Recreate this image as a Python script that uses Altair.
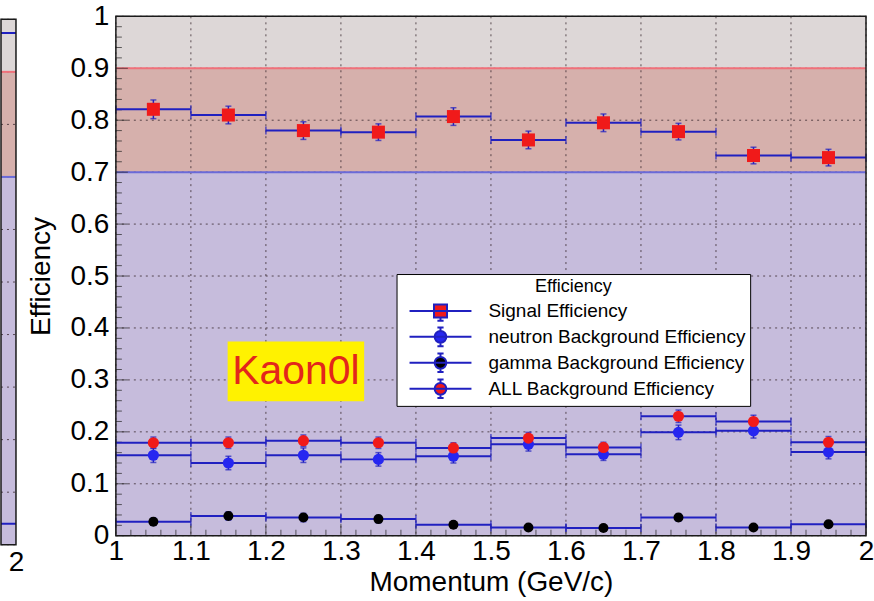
import altair as alt
import pandas as pd

# ---------------- data ----------------
bin_lo = [1.0, 1.1, 1.2, 1.3, 1.4, 1.5, 1.6, 1.7, 1.8, 1.9]
bin_hi = [1.1, 1.2, 1.3, 1.4, 1.5, 1.6, 1.7, 1.8, 1.9, 2.0]
bin_mid = [1.05, 1.15, 1.25, 1.35, 1.45, 1.55, 1.65, 1.75, 1.85, 1.95]

signal = [0.821, 0.810, 0.780, 0.777, 0.807, 0.762, 0.795, 0.778, 0.732, 0.728]
signal_err = [0.018, 0.017, 0.017, 0.016, 0.017, 0.017, 0.017, 0.016, 0.016, 0.016]
neutron = [0.155, 0.140, 0.155, 0.147, 0.153, 0.176, 0.157, 0.199, 0.202, 0.161]
neutron_err = [0.014, 0.013, 0.014, 0.013, 0.013, 0.013, 0.012, 0.014, 0.014, 0.013]
gamma = [0.027, 0.038, 0.035, 0.032, 0.021, 0.016, 0.015, 0.035, 0.016, 0.022]
gamma_err = [0.007, 0.008, 0.008, 0.007, 0.006, 0.005, 0.005, 0.007, 0.005, 0.006]
all_bkg = [0.179, 0.179, 0.183, 0.179, 0.169, 0.188, 0.170, 0.230, 0.220, 0.180]
all_err = [0.011, 0.011, 0.011, 0.011, 0.010, 0.011, 0.010, 0.012, 0.012, 0.011]

series_names = ["Signal Efficiency", "neutron Background Efficiency",
                "gamma Background Efficiency", "ALL Background Efficiency"]
series_colors = ["#f01a1a", "#2626f0", "#000000", "#f01a1a"]

x_ticks = [1.0, 1.1, 1.2, 1.3, 1.4, 1.5, 1.6, 1.7, 1.8, 1.9, 2.0]
y_ticks = [0.0, 0.1, 0.2, 0.3, 0.4, 0.5, 0.6, 0.7, 0.8, 0.9, 1.0]
x_minor = [round(t + k * 0.02, 2) for t in x_ticks[:-1] for k in (1, 2, 3, 4)]
y_minor = [round(t + k * 0.02, 2) for t in y_ticks[:-1] for k in (1, 2, 3, 4)]

# shaded regions (lower, upper) and their fills
band_lo = [0.0, 0.0, 0.0]
band_hi = [1.0, 0.9, 0.7]
band_fill = ["#ddd7d7", "#d6b0ac", "#c6bcdc"]
band_line = [None, "#f0707a", "#6a6ad8"]

# cut-off neighbouring panel (only its right edge is visible)
left_lo = [1.9, 1.9]
left_hi = [2.0, 2.0]
left_val = [0.974, 0.040]

label_text = ["Kaon0l"]
label_box_x = [1.149, 1.331]
label_box_y = [0.259, 0.374]

# ---------------- styling ----------------
FONT = "Liberation Sans"
LINE_BLUE = "#2020c0"
X_MIN, X_MAX = 1.0, 2.0
LX_MIN = 1.97

xs = alt.Scale(domain=[X_MIN, X_MAX], nice=False, zero=False)
ys = alt.Scale(domain=[0, 1], nice=False, zero=False)
x_axis = alt.Axis(values=x_ticks, format="~g", title="Momentum (GeV/c)", ticks=False,
                  domain=False, grid=False, labelFontSize=28, titleFontSize=28,
                  labelFont=FONT, titleFont=FONT, titleFontWeight="normal",
                  labelColor="black", titleColor="black", labelPadding=2, titlePadding=3,
                  labelFlush=False, labelOverlap=False)
y_axis = alt.Axis(values=y_ticks, format="~g", title="Efficiency", ticks=False,
                  domain=False, grid=False, labelFontSize=28, titleFontSize=28,
                  labelFont=FONT, titleFont=FONT, titleFontWeight="normal",
                  labelColor="black", titleColor="black", labelPadding=7, titlePadding=15,
                  labelFlush=False, labelOverlap=False)


def X(f, **kw):
    return alt.X(f, type="quantitative", scale=xs, axis=x_axis, **kw)


def Y(f, **kw):
    return alt.Y(f, type="quantitative", scale=ys, axis=y_axis, **kw)


# ---------------- tables ----------------
rows = []
for name, vals, errs in zip(series_names, [signal, neutron, gamma, all_bkg],
                            [signal_err, neutron_err, gamma_err, all_err]):
    for lo, hi, mid, v, e in zip(bin_lo, bin_hi, bin_mid, vals, errs):
        rows.append(dict(series=name, lo=lo, hi=hi, mid=mid, val=v,
                         elo=v - e, ehi=v + e))
df = pd.DataFrame(rows)

bands = pd.DataFrame(dict(y0=band_lo, y1=band_hi, fill=band_fill,
                          x0=[X_MIN] * 3, x1=[X_MAX] * 3))
gx = pd.DataFrame(dict(x=x_ticks))
gy = pd.DataFrame(dict(y=y_ticks, x0=[X_MIN] * len(y_ticks), x1=[X_MAX] * len(y_ticks)))

layers = []
for i in range(len(band_lo)):
    layers.append(alt.Chart(bands.iloc[[i]]).mark_rect(color=band_fill[i]).encode(
        x=X("x0"), x2="x1", y=Y("y0"), y2="y1"))
# grid
layers.append(alt.Chart(gx).mark_rule(color="#3a2a30", strokeDash=[2, 4], strokeWidth=1,
                                      opacity=0.8).encode(x=X("x")))
layers.append(alt.Chart(gy).mark_rule(color="#3a2a30", strokeDash=[2, 4], strokeWidth=1,
                                      opacity=0.8).encode(y=Y("y"), x=X("x0"), x2="x1"))
for i in range(1, len(band_lo)):
    layers.append(alt.Chart(bands.iloc[[i]]).mark_rule(color=band_line[i], strokeWidth=2).encode(
        x=X("x0"), x2="x1", y=Y("y1")))

# label box
lab = pd.DataFrame(dict(x0=[label_box_x[0]], x1=[label_box_x[1]], y0=[label_box_y[0]],
                        y1=[label_box_y[1]], text=label_text,
                        xm=[(label_box_x[0] + label_box_x[1]) / 2],
                        ym=[(label_box_y[0] + label_box_y[1]) / 2]))
layers.append(alt.Chart(lab).mark_rect(color="#fff200").encode(
    x=X("x0"), x2="x1", y=Y("y0"), y2="y1"))
layers.append(alt.Chart(lab).mark_text(font=FONT, fontSize=41, color="#e3261b",
                                       baseline="middle", align="center", dy=1).encode(
    x=X("xm"), y=Y("ym"), text="text:N"))

# inner ticks
layers.append(alt.Chart(pd.DataFrame(dict(x=x_minor))).mark_tick(
    orient="vertical", size=6, thickness=1, color="#222").encode(x=X("x"), y=alt.value(517)))
layers.append(alt.Chart(pd.DataFrame(dict(x=x_ticks))).mark_tick(
    orient="vertical", size=12, thickness=1, color="#222").encode(x=X("x"), y=alt.value(514)))
layers.append(alt.Chart(pd.DataFrame(dict(y=y_minor))).mark_tick(
    orient="horizontal", size=6, thickness=1, color="#222").encode(y=Y("y"), x=alt.value(3)))
layers.append(alt.Chart(pd.DataFrame(dict(y=y_ticks))).mark_tick(
    orient="horizontal", size=12, thickness=1, color="#222").encode(y=Y("y"), x=alt.value(6)))

# horizontal bin-width bars with end ticks
layers.append(alt.Chart(df).mark_rule(color=LINE_BLUE, strokeWidth=2).encode(
    x=X("lo"), x2="hi", y=Y("val")))
layers.append(alt.Chart(df).mark_tick(orient="vertical", size=8, thickness=1.5,
                                      color=LINE_BLUE).encode(x=X("lo"), y=Y("val")))
layers.append(alt.Chart(df).mark_tick(orient="vertical", size=8, thickness=1.5,
                                      color=LINE_BLUE).encode(x=X("hi"), y=Y("val")))
# vertical error bars
layers.append(alt.Chart(df).mark_rule(color=LINE_BLUE, strokeWidth=1.5).encode(
    x=X("mid"), y=Y("elo"), y2="ehi"))
layers.append(alt.Chart(df).mark_tick(orient="horizontal", size=6, thickness=1.5,
                                      color=LINE_BLUE).encode(x=X("mid"), y=Y("elo")))
layers.append(alt.Chart(df).mark_tick(orient="horizontal", size=6, thickness=1.5,
                                      color=LINE_BLUE).encode(x=X("mid"), y=Y("ehi")))
# markers
for name, col in zip(series_names, series_colors):
    sub = df[df.series == name]
    if name.startswith("Signal"):
        mk = alt.Chart(sub).mark_square(size=170, color=col, opacity=1)
    elif name.startswith("gamma"):
        mk = alt.Chart(sub).mark_circle(size=100, color=col, opacity=1)
    else:
        mk = alt.Chart(sub).mark_circle(size=125, color=col, opacity=1)
    layers.append(mk.encode(x=X("mid"), y=Y("val")))

# frame
layers.append(alt.Chart(bands.iloc[[0]]).mark_rect(fillOpacity=0, stroke="#1a1a1a",
                                                   strokeWidth=1.5).encode(
    x=X("x0"), x2="x1", y=Y("y0"), y2="y1"))

# legend (symbols only appear in the legend; points are placed off-canvas)
sq = "M-1,0H1M-0.21,-0.21H0.21V0.21H-0.21ZM0,0.21V0.32M-0.1,0.32H0.1"
ci = ("M-1,0H1M-0.19,0A0.19,0.19 0 1,1 0.19,0A0.19,0.19 0 1,1 -0.19,0Z"
      "M0,0.19V0.3M-0.1,0.3H0.1M0,-0.19V-0.3M-0.1,-0.3H0.1")
leg = alt.Legend(title="Efficiency", orient="none", legendX=396, legendY=258,
                 fillColor="white", strokeColor="black", padding=4, symbolOffset=8,
                 titleFontSize=18, titleFont=FONT, titleFontWeight="normal",
                 titleColor="black", titleAnchor="middle", titleAlign="center",
                 titlePadding=2, labelFontSize=19, labelFont=FONT, labelColor="black",
                 labelOffset=16, symbolSize=3844, symbolStrokeColor=LINE_BLUE,
                 symbolStrokeWidth=2, clipHeight=25.8, rowPadding=0, labelLimit=400)
layers.append(alt.Chart(df).mark_point(filled=True, size=3844, stroke=LINE_BLUE,
                                       strokeWidth=2, opacity=1, clip=True).encode(
    x=alt.value(-5000), y=Y("val"),
    color=alt.Color("series:N", scale=alt.Scale(domain=series_names, range=series_colors),
                    legend=leg),
    shape=alt.Shape("series:N", scale=alt.Scale(domain=series_names, range=[sq, ci, ci, ci]),
                    legend=leg)))

main = alt.layer(*layers).properties(width=751, height=520)

# ---------------- left (cut-off) panel ----------------
# its frame sits a little lower than the main one: the y domain reaches slightly above 1
LY_TOP = 1.0057
lxs = alt.Scale(domain=[LX_MIN, X_MAX], nice=False, zero=False)
lys = alt.Scale(domain=[0, LY_TOP], nice=False, zero=False)
lx_axis = alt.Axis(values=[2.0], format="~g", title=None, ticks=False, domain=False,
                   grid=False, labelFontSize=28, labelFont=FONT, labelColor="black",
                   labelPadding=4, labelFlush=False)


def LX(f):
    return alt.X(f, type="quantitative", scale=lxs, axis=lx_axis)


def LY(f):
    return alt.Y(f, type="quantitative", scale=lys, axis=None)


lbands = pd.DataFrame(dict(y0=band_lo, y1=band_hi, x0=[LX_MIN] * 3, x1=[X_MAX] * 3))
ll = []
for i in range(len(band_lo)):
    ll.append(alt.Chart(lbands.iloc[[i]]).mark_rect(color=band_fill[i]).encode(
        x=LX("x0"), x2="x1", y=LY("y0"), y2="y1"))
lgy = pd.DataFrame(dict(y=y_ticks, x0=[LX_MIN] * len(y_ticks), x1=[X_MAX] * len(y_ticks)))
ll.append(alt.Chart(lgy).mark_rule(color="#3a2a30", strokeDash=[2, 4], opacity=0.8).encode(
    y=LY("y"), x=LX("x0"), x2="x1"))
for i in range(1, len(band_lo)):
    ll.append(alt.Chart(lbands.iloc[[i]]).mark_rule(color=band_line[i], strokeWidth=2).encode(
        x=LX("x0"), x2="x1", y=LY("y1")))
ldf = pd.DataFrame(dict(lo=left_lo, hi=left_hi, val=left_val))
ll.append(alt.Chart(ldf).mark_rule(color=LINE_BLUE, strokeWidth=2, clip=True).encode(
    x=LX("lo"), x2="hi", y=LY("val")))
ll.append(alt.Chart(lbands.iloc[[0]]).mark_rect(fillOpacity=0, stroke="#1a1a1a",
                                                strokeWidth=1.5).encode(
    x=LX("x0"), x2="x1", y=LY("y0"), y2="y1"))
left = alt.layer(*ll).properties(width=15, height=529)

chart = alt.hconcat(left, main, spacing=3).properties(
    padding={"left": 0, "top": 2, "right": 0, "bottom": 0},
    background="white").configure_view(stroke=None)

chart.save("out.html", embed_options={"renderer": "svg", "actions": False})
